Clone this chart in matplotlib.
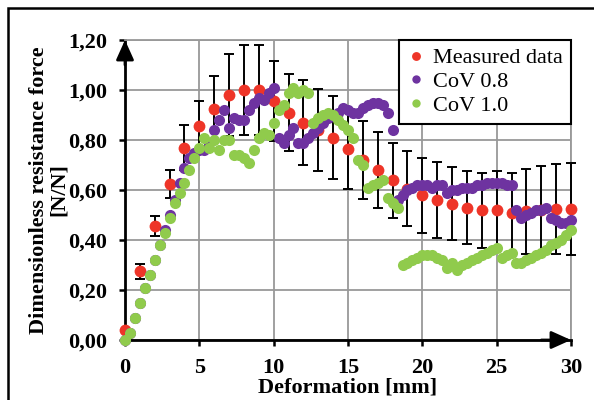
import matplotlib
matplotlib.use("Agg")
import matplotlib.pyplot as plt
from matplotlib.patches import Rectangle

plt.rcParams["font.family"] = ["Liberation Serif", "DejaVu Serif"]

# measured data (mean and standard deviation at each mm)
meas_x = [0, 1, 2, 3, 4, 5, 6, 7, 8, 9, 10, 11, 12, 13, 14, 15, 16, 17, 18, 19, 20,
          21, 22, 23, 24, 25, 26, 27, 28, 29, 30]
meas_y = [0.04, 0.275, 0.455, 0.625, 0.77, 0.855, 0.925, 0.98, 1.00, 1.00, 0.955,
          0.91, 0.87, 0.84, 0.81, 0.765, 0.72, 0.68, 0.64, 0.605, 0.58,
          0.56, 0.545, 0.53, 0.52, 0.52, 0.51, 0.515, 0.52, 0.525, 0.525]
meas_err = [0.0, 0.03, 0.04, 0.055, 0.09, 0.10, 0.13, 0.165, 0.18, 0.18, 0.16,
            0.155, 0.17, 0.165, 0.165, 0.16, 0.155, 0.15, 0.15, 0.15, 0.15,
            0.15, 0.145, 0.145, 0.15, 0.155, 0.16, 0.17, 0.175, 0.18, 0.185]

# simulation steps
sim_x = [0.0, 0.33, 0.67, 1.0, 1.33, 1.67, 2.0, 2.33, 2.67, 3.0,
         3.33, 3.67, 4.0, 4.33, 4.67, 5.0, 5.33, 5.67, 6.0, 6.33,
         6.67, 7.0, 7.33, 7.67, 8.0, 8.33, 8.67, 9.0, 9.33, 9.67,
         10.0, 10.33, 10.67, 11.0, 11.33, 11.67, 12.0, 12.33, 12.67, 13.0,
         13.33, 13.67, 14.0, 14.33, 14.67, 15.0, 15.33, 15.67, 16.0, 16.33,
         16.67, 17.0, 17.33, 17.67, 18.0, 18.33, 18.67, 19.0, 19.33, 19.67,
         20.0, 20.33, 20.67, 21.0, 21.33, 21.67, 22.0, 22.33, 22.67, 23.0,
         23.33, 23.67, 24.0, 24.33, 24.67, 25.0, 25.33, 25.67, 26.0, 26.33,
         26.67, 27.0, 27.33, 27.67, 28.0, 28.33, 28.67, 29.0, 29.33, 29.67,
         30.0]
cov08_y = [0.00, 0.03, 0.09, 0.15, 0.21, 0.26, 0.32, 0.38, 0.44, 0.50,
           0.56, 0.63, 0.69, 0.73, 0.75, 0.76, 0.76, 0.79, 0.84, 0.88,
           0.92, 0.85, 0.89, 0.88, 0.88, 0.92, 0.95, 0.97, 0.96, 0.99,
           1.01, 0.81, 0.79, 0.82, 0.85, 0.79, 0.79, 0.81, 0.83, 0.85,
           0.87, 0.89, 0.90, 0.91, 0.93, 0.92, 0.91, 0.91, 0.93, 0.94,
           0.95, 0.95, 0.94, 0.91, 0.84, 0.56, 0.58, 0.60, 0.61, 0.62,
           0.62, 0.62, 0.61, 0.62, 0.62, 0.59, 0.60, 0.60, 0.61, 0.61,
           0.61, 0.62, 0.62, 0.63, 0.63, 0.63, 0.63, 0.62, 0.62, 0.52,
           0.49, 0.50, 0.51, 0.52, 0.52, 0.53, 0.49, 0.48, 0.47, 0.47,
           0.48]
cov10_y = [0.00, 0.03, 0.09, 0.15, 0.21, 0.26, 0.32, 0.38, 0.43, 0.49,
           0.55, 0.59, 0.63, 0.68, 0.73, 0.77, 0.81, 0.77, 0.80, 0.76,
           0.80, 0.80, 0.74, 0.74, 0.73, 0.71, 0.76, 0.81, 0.83, 0.82,
           0.87, 0.92, 0.94, 0.99, 1.01, 0.99, 1.00, 0.99, 0.87, 0.89,
           0.90, 0.91, 0.90, 0.88, 0.86, 0.84, 0.81, 0.72, 0.70, 0.61,
           0.62, 0.63, 0.64, 0.57, 0.55, 0.53, 0.30, 0.31, 0.32, 0.33,
           0.34, 0.34, 0.34, 0.33, 0.32, 0.29, 0.31, 0.28, 0.30, 0.31,
           0.32, 0.33, 0.34, 0.35, 0.36, 0.37, 0.33, 0.34, 0.35, 0.31,
           0.31, 0.32, 0.33, 0.34, 0.35, 0.36, 0.38, 0.39, 0.40, 0.42,
           0.44]

x_ticks = [0, 5, 10, 15, 20, 25, 30]
y_ticks = [0.0, 0.2, 0.4, 0.6, 0.8, 1.0, 1.2]
y_tick_labels = ["0,00", "0,20", "0,40", "0,60", "0,80", "1,00", "1,20"]

fig = plt.figure(figsize=(5.94, 4.0), dpi=100)
ax = fig.add_axes([125 / 594, 60 / 400, 446 / 594, 300 / 400])

# outer frame of the picture (only top and left edges are visible)
fig.patches.append(Rectangle((8 / 594, -0.5), 2, 1.5 - 8 / 400, transform=fig.transFigure,
                             fill=False, edgecolor="black", lw=1.8, clip_on=False))

ax.errorbar(meas_x, meas_y, yerr=meas_err, fmt="none", ecolor="black",
            elinewidth=1.4, capsize=3.6, capthick=1.4, zorder=3, clip_on=False)
ax.plot(meas_x, meas_y, "o", ms=8.5, color="#EE3528", mec="none",
        label="Measured data", zorder=4, clip_on=False)
ax.plot(sim_x, cov08_y, "o", ms=8, color="#6E33A0", mec="none",
        label="CoV 0.8", zorder=5, clip_on=False)
ax.plot(sim_x, cov10_y, "o", ms=8, color="#90CB4C", mec="none",
        label="CoV 1.0", zorder=6, clip_on=False)

ax.set_xlim(0, 30)
ax.set_ylim(0, 1.2)
ax.set_xticks(x_ticks)
ax.set_xticklabels([str(t) for t in x_ticks], fontsize=16, fontweight="bold")
ax.set_yticks(y_ticks)
ax.set_yticklabels(y_tick_labels, fontsize=16, fontweight="bold")
ax.tick_params(direction="out", length=4, width=1.8, color="black")
ax.tick_params(axis="y", pad=9)
ax.tick_params(axis="x", pad=9)

ax.grid(True, color="#999999", lw=1.3, zorder=0)
ax.set_axisbelow(True)
for s in ["top", "right"]:
    ax.spines[s].set_color("#999999")
    ax.spines[s].set_linewidth(1.3)
for s in ["left", "bottom"]:
    ax.spines[s].set_color("black")
    ax.spines[s].set_linewidth(2)

# arrow heads on the axes
arrow = dict(arrowstyle="-|>,head_length=0.6,head_width=0.27", color="black",
             lw=2, mutation_scale=20, shrinkA=0, shrinkB=0)
ax.annotate("", xy=(0, 1.2), xytext=(0, 1.1), arrowprops=arrow,
            annotation_clip=False, zorder=7)
ax.annotate("", xy=(30, 0), xytext=(28, 0), arrowprops=arrow,
            annotation_clip=False, zorder=7)

ax.set_xlabel("Deformation [mm]", fontsize=16, fontweight="bold")
ax.xaxis.set_label_coords(0.5, -0.125)
ax.set_ylabel("Dimensionless resistance force\n[N/N]", fontsize=16,
              fontweight="bold", linespacing=1.0)
ax.yaxis.set_label_coords(-0.125, 0.5)

leg = ax.legend(loc="upper right", bbox_to_anchor=(1, 1), borderaxespad=0,
                fancybox=False, edgecolor="black", framealpha=1,
                prop={"size": 16}, handlelength=0.8, handletextpad=0.4,
                borderpad=0.35, labelspacing=0.15, markerscale=0.75)
leg.get_frame().set_linewidth(1.5)
leg.set_zorder(10)

fig.savefig("out.png", dpi=100)
